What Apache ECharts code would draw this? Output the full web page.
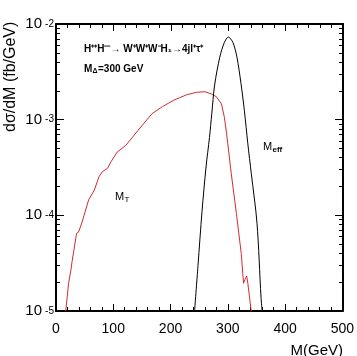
<!DOCTYPE html>
<html><head><meta charset="utf-8">
<script src="https://cdn.jsdelivr.net/npm/echarts@6/dist/echarts.min.js"></script>
<style>html,body{margin:0;padding:0;background:#fff}#c{width:357px;height:356px}</style>
</head><body><div id="c"></div>
<script>
// M_T distribution (red)
const redX = [17,22,26,28,36,39.5,45,57,60,67,75,81,90,96,107,122,134,151,168,186,206,228,245,260,271,280,289,294,298,300,306,315,323.5,327.5,331,333,335,340,341];
const redY = [1.0e-5,1.95e-5,2.68e-5,3.27e-5,6.5e-5,6.7e-5,8.3e-5,1.45e-4,1.5e-4,1.84e-4,2.53e-4,2.86e-4,3.1e-4,3.63e-4,4.6e-4,5.4e-4,6.6e-4,8.8e-4,1.16e-3,1.37e-3,1.6e-3,1.82e-3,1.93e-3,1.96e-3,1.86e-3,1.74e-3,1.46e-3,1.06e-3,7.1e-4,5.6e-4,2.75e-4,1.05e-4,4.0e-5,1.95e-5,2.2e-5,2.32e-5,1.95e-5,1.1e-5,1.0e-5];
// M_eff distribution (black)
const blackX = [242,248,255,262,268,272,277,286,294,301,309,316,323,329,335,341,351,358,360];
const blackY = [1.0e-5,3.0e-5,1.1e-4,3.2e-4,6.5e-4,1.15e-3,2.3e-3,4.5e-3,6.4e-3,7.3e-3,6.4e-3,4.5e-3,2.4e-3,1.24e-3,5.6e-4,2.75e-4,8.3e-5,1.4e-5,1.0e-5];
// axes
const xTicks = [0,100,200,300,400,500];
const yDecades = [1e-5,1e-4,1e-3,1e-2];
const yMinorMantissas = [2,3,4,5,6,7,8,9];

const red = redX.map((x,i)=>[x,redY[i]]);
const black = blackX.map((x,i)=>[x,blackY[i]]);
const yMinorLog = [];
yDecades.slice(0,-1).forEach(d=>yMinorMantissas.forEach(m=>yMinorLog.push(Math.log10(m*d))));
const xMin = xTicks[0], xMax = xTicks[xTicks.length-1];
const yMin = yDecades[0], yMax = yDecades[yDecades.length-1];
const logMin = Math.log10(yMin), logMax = Math.log10(yMax);

const chart = echarts.init(document.getElementById('c'), null, {renderer:'canvas'});
const FONT = 'Liberation Sans, Arial, Helvetica, sans-serif';
const G = {left:56, right:14, top:24, bottom:45};
const grids = [0,1,2,3,4,5].map(()=>Object.assign({}, G));
const line2 = {show:true, lineStyle:{color:'#000', width:2}};
const tick = (len)=>({show:true, inside:true, length:len, lineStyle:{color:'#000', width:1}});
const dummy = (gi)=>({gridIndex:gi, type:'value', show:false, min:1, max:2});

chart.setOption({
  animation:false,
  grid:grids,
  xAxis:[
    {gridIndex:0, type:'value', min:xMin, max:xMax, interval:100,
     axisLine:line2, axisTick:tick(7), minorTick:{show:true, splitNumber:5, length:4, lineStyle:{color:'#000', width:1}},
     splitLine:{show:false}, axisLabel:{color:'#000', fontSize:14, fontFamily:FONT, margin:11}},
    {gridIndex:1, type:'value', position:'top', min:xMin, max:xMax, interval:100,
     axisLine:line2, axisTick:tick(7), minorTick:{show:true, splitNumber:5, length:4, lineStyle:{color:'#000', width:1}},
     splitLine:{show:false}, axisLabel:{show:false}},
    dummy(2), dummy(3), dummy(4), dummy(5)
  ],
  yAxis:[
    {gridIndex:0, type:'log', logBase:10, min:yMin, max:yMax,
     axisLine:line2, axisTick:tick(8), splitLine:{show:false},
     axisLabel:{color:'#000', fontSize:15, fontFamily:FONT, margin:14, formatter:()=>'10'}},
    dummy(1),
    {gridIndex:2, type:'log', logBase:10, position:'right', min:yMin, max:yMax,
     axisLine:line2, axisTick:tick(8), splitLine:{show:false}, axisLabel:{show:false}},
    {gridIndex:3, type:'value', min:logMin, max:logMax,
     axisLine:{show:false}, splitLine:{show:false}, axisLabel:{show:false},
     axisTick:Object.assign(tick(4), {customValues:yMinorLog})},
    {gridIndex:4, type:'value', position:'right', min:logMin, max:logMax,
     axisLine:{show:false}, splitLine:{show:false}, axisLabel:{show:false},
     axisTick:Object.assign(tick(4), {customValues:yMinorLog})},
    {gridIndex:5, type:'log', logBase:10, min:yMin, max:yMax,
     axisLine:{show:false}, axisTick:{show:false}, splitLine:{show:false},
     axisLabel:{color:'#000', fontSize:10, fontFamily:FONT, margin:2, padding:[0,0,24,0],
                formatter:(v)=>String(Math.round(Math.log10(v)))}}
  ],
  series:[
    {type:'line', xAxisIndex:0, yAxisIndex:0, data:red, showSymbol:false, lineStyle:{color:'#d42a32', width:1}, itemStyle:{color:'#d42a32'}},
    {type:'line', xAxisIndex:0, yAxisIndex:0, data:black, showSymbol:false, smooth:0.3, lineStyle:{color:'#000', width:1}, itemStyle:{color:'#000'}}
  ],
  graphic:[
    {type:'text', rotation:Math.PI/2, x:3, y:132, style:{text:'dσ/dM (fb/GeV)', fill:'#000', font:'16px '+FONT}},
    {type:'text', x:343, y:343, style:{text:'M(GeV)', fill:'#000', font:'15px '+FONT, align:'right'}},
    {type:'text', x:84, y:44, style:{text:'H⁺⁺H⁻⁻→ W⁺W⁺W⁻H₁→4jl⁺τ⁺', fill:'#000', font:'bold 10px '+FONT}},
    {type:'text', x:84, y:64, style:{text:'M', fill:'#000', font:'bold 10px '+FONT}},
    {type:'text', x:92.5, y:68, style:{text:'Δ', fill:'#000', font:'bold 7px '+FONT}},
    {type:'text', x:98, y:64, style:{text:'=300 GeV', fill:'#000', font:'bold 10px '+FONT}},
    {type:'text', x:115, y:191, style:{text:'M', fill:'#000', font:'11px '+FONT}},
    {type:'text', x:124.5, y:196, style:{text:'T', fill:'#000', font:'8px '+FONT}},
    {type:'text', x:263, y:141, style:{text:'M', fill:'#000', font:'11px '+FONT}},
    {type:'text', x:272.5, y:146, style:{text:'eff', fill:'#000', font:'bold 8px '+FONT}}
  ]
});
</script></body></html>
